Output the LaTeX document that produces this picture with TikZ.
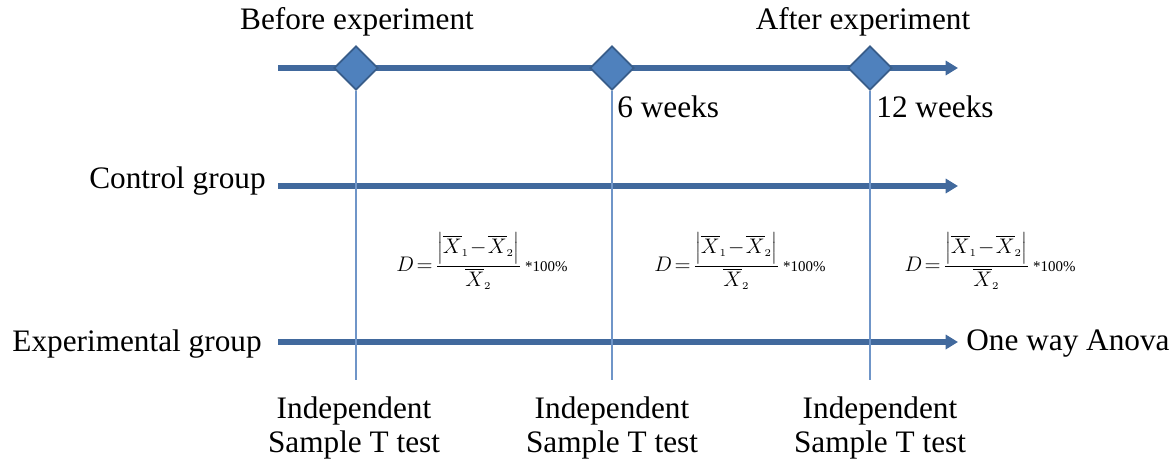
\documentclass[tikz,border=0pt]{standalone}
\usepackage{fontspec}
\setmainfont{Liberation Serif}
\usetikzlibrary{arrows.meta,shapes.geometric}
\definecolor{mainline}{HTML}{41699D}
\definecolor{vline}{HTML}{6F95C8}
\definecolor{dfill}{HTML}{4F81BD}
\definecolor{dborder}{HTML}{385D8A}
\newcommand{\dform}{$\displaystyle D\!=\!\frac{\Bigl|\overline{X}_{\scriptscriptstyle 1}\!-\!\overline{X}_{\scriptscriptstyle 2}\Bigr|}{\overline{X}_{\scriptscriptstyle 2}}$\,{\fontsize{8.5}{10}\selectfont *100\%}}
\begin{document}
\begin{tikzpicture}[x=0.02cm,y=-0.02cm,
  txt/.style={font=\fontsize{17.8}{21}\selectfont, inner sep=0pt},
  mline/.style={draw=mainline, line width=3.4pt, -{Triangle[length=7pt,width=8pt]}},
  vl/.style={draw=vline, line width=0.9pt},
  dia/.style={diamond, fill=dfill, draw=dborder, line width=1pt, inner sep=0pt, minimum width=25pt, minimum height=25pt},
  frm/.style={font=\fontsize{11.5}{13}\selectfont, inner sep=0pt}]
\useasboundingbox (0,0) rectangle (1172,460);
% main lines
\coordinate (t0) at (278,68); \coordinate (t1) at (958,68);
\coordinate (c0) at (278,186); \coordinate (c1) at (958,186);
\coordinate (e0) at (278,342); \coordinate (e1) at (958,342);
\coordinate (v1) at (356,380); \coordinate (v2) at (612,380); \coordinate (v3) at (870,380);
\draw[mline] (t0) -- (t1);
\draw[mline] (c0) -- (c1);
\draw[mline] (e0) -- (e1);
\node[dia] (d1) at (356,68) {};
\node[dia] (d2) at (612,68) {};
\node[dia] (d3) at (870,68) {};
\draw[vl] (d1.south) -- (v1);
\draw[vl] (d2.south) -- (v2);
\draw[vl] (d3.south) -- (v3);
% labels
\node[txt] (be) at (357,22) {Before experiment};
\node[txt] (ae) at (863,22) {After experiment};
\node[txt, anchor=west] (w6) at (617,107) {6 weeks};
\node[txt, anchor=west] (w12) at (876,107) {12 weeks};
\node[txt, anchor=east] (cg) at (266,181) {Control group};
\node[txt, anchor=east] (eg) at (262,344) {Experimental group};
\node[txt, anchor=west] (ow) at (966,344) {One way Anova};
\foreach \x/\n in {354/i1,612/i2,880/i3}{
  \node[txt, align=center] (\n) at (\x,428) {Independent\\[-2pt]Sample T test};
}
\foreach \x/\n in {482/f1,740/f2,990/f3}{
  \node[frm] (\n) at (\x,261) {\dform};
}
\end{tikzpicture}
\end{document}
